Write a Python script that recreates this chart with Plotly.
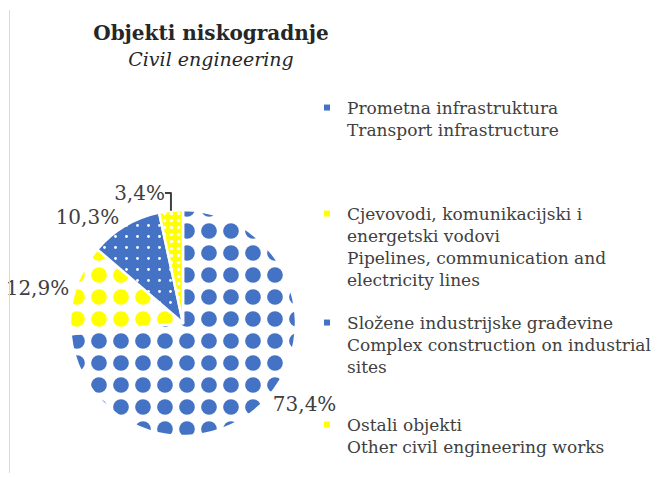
import plotly.graph_objects as go

# data
labels = [
    "Prometna infrastruktura<br>Transport infrastructure",
    "Cjevovodi, komunikacijski i<br>energetski vodovi<br>Pipelines, communication and<br>electricity lines",
    "Složene industrijske građevine<br>Complex construction on industrial<br>sites",
    "Ostali objekti<br>Other civil engineering works",
]
shares = [73.4, 12.9, 10.3, 3.4]

BLUE = "#4472C4"
YELLOW = "#FFFF00"
colors = [BLUE, YELLOW, BLUE, YELLOW]
W, H = 665, 477

fig = go.Figure()

fig.add_trace(go.Pie(
    labels=labels,
    values=shares,
    sort=False,
    direction="clockwise",
    rotation=0,
    texttemplate="%{percent:.1%}",
    textposition="outside",
    textfont=dict(family="DejaVu Serif", size=20, color="#404040"),
    marker=dict(
        colors=colors,
        line=dict(color="white", width=2.5),
        pattern=dict(
            shape=[".", ".", ".", "."],
            fgcolor=[BLUE, YELLOW, "white", "white"],
            bgcolor=["white", "white", BLUE, YELLOW],
            size=[22, 22, 11, 7],
            solidity=[0.4, 0.4, 0.05, 0.2],
            fillmode="replace",
        ),
    ),
    domain=dict(x=[(183 - 113) / W, (183 + 113) / W],
                y=[(154 - 113) / H, (154 + 113) / H]),
    showlegend=False,
))

# legend entries, one legend each so the spacing can follow the original
legend_tops = [90, 196, 305, 407]
legend_names = ["legend", "legend2", "legend3", "legend4"]
for name, col, lg in zip(labels, colors, legend_names):
    fig.add_trace(go.Scatter(
        x=[None], y=[None], mode="markers", name=name,
        marker=dict(symbol="square", size=6, color=col),
        legend=lg, showlegend=True,
    ))

legend_style = dict(
    x=307 / W, xanchor="left", yanchor="top", valign="top",
    font=dict(family="DejaVu Serif", size=17, color="#404040"),
    itemwidth=30, bgcolor="rgba(0,0,0,0)",
)
layout_legends = {}
for lg, top in zip(legend_names, legend_tops):
    layout_legends[lg] = dict(legend_style, y=1 - top / H)

fig.update_layout(
    width=W, height=H,
    margin=dict(l=0, r=0, t=0, b=0, autoexpand=False),
    paper_bgcolor="white",
    plot_bgcolor="white",
    separators=",.",
    font=dict(family="DejaVu Serif", color="#404040"),
    xaxis=dict(visible=False),
    yaxis=dict(visible=False),
    title=dict(
        text="<b>Objekti niskogradnje</b><br><i><span style='font-size:19px'>Civil engineering</span></i>",
        x=211 / W, xanchor="center",
        y=1 - 40 / H, yanchor="top",
        font=dict(family="DejaVu Serif", size=20, color="#262626"),
    ),
    shapes=[dict(type="line", xref="paper", yref="paper",
                 x0=9.5 / W, x1=9.5 / W, y0=1 - 10 / H, y1=1 - 473 / H,
                 line=dict(color="#d9d9d9", width=1))],
    **layout_legends,
)

fig.write_html("out.html", config={"displayModeBar": False},
               post_script="document.body.style.margin='0';")
